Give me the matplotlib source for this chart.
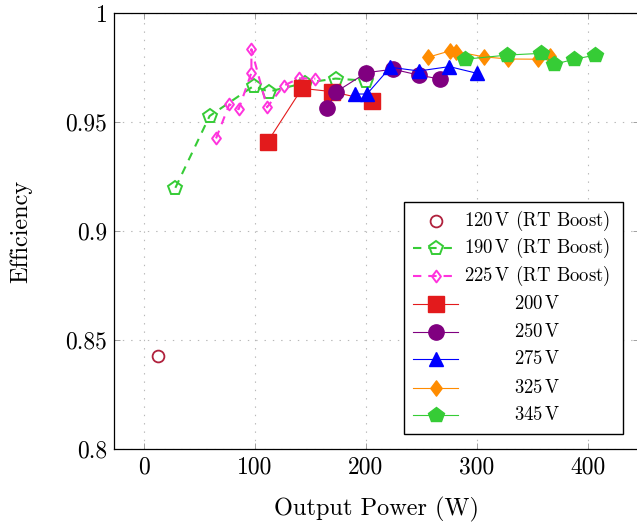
import matplotlib
matplotlib.use("Agg")
import matplotlib.pyplot as plt
from matplotlib.path import Path
from matplotlib.patches import Rectangle
from matplotlib.ticker import FuncFormatter

plt.rcParams['font.family'] = 'cmr10'
plt.rcParams['mathtext.fontset'] = 'cm'
plt.rcParams['axes.formatter.use_mathtext'] = True
plt.rcParams['lines.scale_dashes'] = False

# data (output power in W, efficiency)
p120 = [12.5]
e120 = [0.8426]
p190 = [28.1, 59.0, 98.7, 112.3, 145.0, 172.6, 200.4]
e190 = [0.9198, 0.9528, 0.9666, 0.9640, 0.9680, 0.9700, 0.9690]
p225 = [64.8, 76.8, 85.2, 96.7, 96.7, 110.8, 125.8, 139.4, 154.4]
e225 = [0.9425, 0.9582, 0.9559, 0.9727, 0.9835, 0.9568, 0.9667, 0.9701, 0.9700]
p200 = [111.4, 142.4, 169.5, 205.6]
e200 = [0.9410, 0.9655, 0.9640, 0.9598]
p250 = [165.0, 173.4, 200.4, 224.5, 247.7, 266.6]
e250 = [0.9563, 0.9640, 0.9727, 0.9743, 0.9716, 0.9698]
p275 = [190.0, 201.0, 222.1, 247.7, 275.4, 300.4]
e275 = [0.9629, 0.9629, 0.9752, 0.9735, 0.9755, 0.9724]
p325 = [256.1, 275.6, 281.7, 306.3, 328.3, 355.0, 366.5]
e325 = [0.9798, 0.9827, 0.9824, 0.9800, 0.9790, 0.9789, 0.9804]
p345 = [289.8, 327.4, 358.4, 370.1, 388.1, 407.1]
e345 = [0.9789, 0.9808, 0.9816, 0.9766, 0.9789, 0.9808]

labels = [r'$120\,\mathrm{V}$ (RT Boost)', r'$190\,\mathrm{V}$ (RT Boost)',
          r'$225\,\mathrm{V}$ (RT Boost)', r'$200\,\mathrm{V}$', r'$250\,\mathrm{V}$',
          r'$275\,\mathrm{V}$', r'$325\,\mathrm{V}$', r'$345\,\mathrm{V}$']

xticks = [0, 100, 200, 300, 400]
yticks = [0.8, 0.85, 0.9, 0.95, 1.0]

# pgfplots style narrow diamond
diamond = Path([(0, 1), (0.75, 0), (0, -1), (-0.75, 0), (0, 1)], closed=True)

c_dred = '#b0203c'
c_green = '#36cc36'
c_pink = '#ff33dd'
c_red = '#e31a1c'
c_purple = '#800080'
c_blue = '#0000ff'
c_orange = '#ff8c00'

dash = (0, (6, 5))

styles = [
    dict(color=c_dred, ls='none', marker='o', ms=8.5, mfc='none', mew=1.3),
    dict(color=c_green, ls=dash, lw=1.5, marker='p', ms=10, mfc='none', mew=1.4),
    dict(color=c_pink, ls=dash, lw=1.5, marker=diamond, ms=8.5, mfc='none', mew=1.4),
    dict(color=c_red, ls='-', lw=0.8, marker='s', ms=11, mfc=c_red),
    dict(color=c_purple, ls='-', lw=0.8, marker='o', ms=11, mfc=c_purple),
    dict(color=c_blue, ls='-', lw=0.8, marker='^', ms=9.5, mfc=c_blue),
    dict(color=c_orange, ls='-', lw=0.8, marker=diamond, ms=11, mfc=c_orange),
    dict(color=c_green, ls='-', lw=0.8, marker='p', ms=11.5, mfc=c_green),
]
series = [(p120, e120), (p190, e190), (p225, e225), (p200, e200),
          (p250, e250), (p275, e275), (p325, e325), (p345, e345)]

W, H = 637, 527
fig = plt.figure(figsize=(W / 100, H / 100), dpi=100)
# axes box in pixels: left 114.3, right 639.2 (just past the image edge), top 13.3, bottom 448.5
ax = fig.add_axes([114.3 / W, 1 - 448.5 / H, 524.9 / W, 435.2 / H])

for (x, y), st in zip(series, styles):
    ax.plot(x, y, mec=st['color'], **st)

ax.set_xlim(-27, 446.6)
ax.set_ylim(0.8, 1.0)
ax.set_xticks(xticks)
ax.set_yticks(yticks)
ax.xaxis.set_major_formatter(FuncFormatter(lambda v, pos: f'{v:g}'))
ax.yaxis.set_major_formatter(FuncFormatter(lambda v, pos: f'{v:g}'))
ax.tick_params(direction='in', length=4.5, width=0.6, color='#909090',
               top=True, right=True, labelsize=17)
ax.tick_params(axis='x', pad=6)
ax.tick_params(axis='y', pad=5)
ax.grid(True, color='#b8b8b8', linestyle=(0, (1, 5)), linewidth=0.8)
for sp in ax.spines.values():
    sp.set_linewidth(0.9)

ax.set_xlabel('Output Power (W)', fontsize=17.5)
ax.set_ylabel('Efficiency', fontsize=17.5)
ax.xaxis.set_label_coords(0.5, -0.112)
ax.yaxis.set_label_coords(-0.156, 0.5)


# hand-built legend (labels centred like the pgfplots one)
def fx(px):
    return (px - 114.3) / 524.9


def fy(py):
    return (448.5 - py) / 435.2


ax.add_patch(Rectangle((fx(404), fy(434.3)), fx(623) - fx(404), fy(201.7) - fy(434.3),
                       transform=ax.transAxes, facecolor='white', edgecolor='black',
                       lw=1.0, zorder=10))
rows = [221, 248.3, 276, 304.3, 331.7, 359.3, 387.7, 415]
for i, (st, lab) in enumerate(zip(styles, labels)):
    yy = fy(rows[i])
    if st['ls'] != 'none':
        ax.plot([fx(412.7), fx(458.3)], [yy, yy], transform=ax.transAxes,
                color=st['color'], ls=st['ls'], lw=st['lw'], zorder=11)
    ax.plot([fx(435.7)], [yy], transform=ax.transAxes, ls='none', zorder=12,
            marker=st['marker'], ms=st['ms'], mfc=st['mfc'], mec=st['color'],
            mew=st.get('mew', 1.0))
    ax.text(fx(537), yy, lab, transform=ax.transAxes, ha='center', va='center',
            fontsize=13.5, zorder=12)

fig.savefig('out.png', dpi=100)
